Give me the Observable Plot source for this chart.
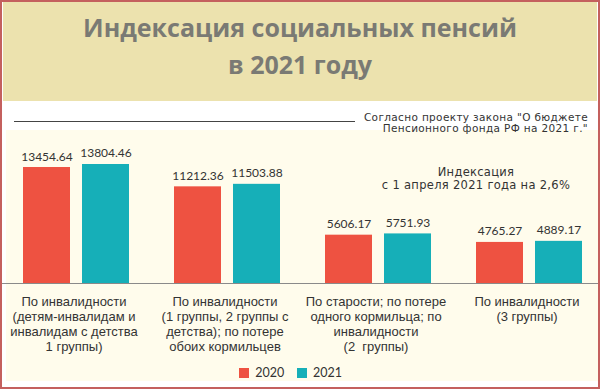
<!DOCTYPE html>
<html>
<head>
<meta charset="utf-8">
<script src="https://cdn.jsdelivr.net/npm/d3@7"></script>
<script src="https://cdn.jsdelivr.net/npm/@observablehq/plot@0.6"></script>
<style>
  html, body { margin: 0; padding: 0; background: #fff; }
  #wrap { position: relative; width: 600px; height: 389px; box-sizing: border-box;
          border: 2px solid #c4605e; background: #fff; overflow: hidden; }
  #title { position: absolute; left: 1px; top: 0; width: 594px; height: 99px; background: #ece2ae;
           box-sizing: border-box; padding-top: 7px; text-align: center;
           font: 700 25px/37px "Open Sans", sans-serif; color: #7a7a74; }
  #rule { position: absolute; left: 12px; top: 119px; width: 341px; border-top: 1px solid #444; }
  #cream { position: absolute; left: 4px; top: 128px; width: 592px; height: 251px; background: #fffcec; }
  #note { position: absolute; right: 10px; top: 110px; text-align: right; letter-spacing: 0.35px;
          font: 10.5px/10.5px "DejaVu Sans", sans-serif; color: #333; }
  #bars { position: absolute; left: -2px; top: 128px; }
  #legend { position: absolute; left: 237px; top: 354px; }
  #legend, #legend * { font-family: Lato, sans-serif !important; font-size: 12.5px !important; color: #333 !important; }
</style>
</head>
<body>
<div id="wrap">
  <div id="title">Индексация социальных пенсий<br>в 2021 году</div>
  <div id="rule"></div>
  <div id="cream"></div>
  <div id="note">Согласно проекту закона "О бюджете<br>Пенсионного фонда РФ на 2021 г."</div>
  <div id="bars"></div>
  <div id="legend"></div>
</div>
<script>
const categories = [
  "По инвалидности\n(детям-инвалидам и\nинвалидам с детства\n1 группы)",
  "По инвалидности\n(1 группы, 2 группы с\nдетства); по потере\nобоих кормильцев",
  "По старости; по потере\nодного кормильца; по\nинвалидности\n(2  группы)",
  "По инвалидности\n(3 группы)"
];
const years = ["2020", "2021"];
const values2020 = [13454.64, 11212.36, 5606.17, 4765.27];
const values2021 = [13804.46, 11503.88, 5751.93, 4889.17];
const colors = ["#ee5241", "#16afb8"];
const annotation = "Индексация\nс 1 апреля 2021 года на 2,6%";

const data = categories.flatMap((c, i) => [
  {category: c, year: years[0], value: values2020[i]},
  {category: c, year: years[1], value: values2021[i]}
]);

const barsPlot = Plot.plot({
  width: 605,
  height: 259,
  marginTop: 0, marginBottom: 106, marginLeft: 0, marginRight: 0,
  style: {background: "transparent", maxWidth: "none", overflow: "visible"},
  fx: {domain: categories, padding: 0, axis: null},
  x: {domain: years, paddingInner: 0.2, paddingOuter: 0.36, axis: null},
  y: {domain: [0, 17748], axis: null},
  color: {domain: years, range: colors},
  marks: [
    Plot.barY(data, {fx: "category", x: "year", y: "value", fill: "year"}),
    Plot.ruleY([0], {stroke: "#8a8a8a", strokeWidth: 1}),
    Plot.text(data, {fx: "category", x: "year", y: "value", text: d => d.value.toFixed(2),
      lineAnchor: "bottom", dy: -7, fontSize: 12, fill: "#333", fontFamily: "Lato"}),
    Plot.text([annotation], {fx: () => categories[3], frameAnchor: "top", lineAnchor: "top",
      dx: -54, dy: 36, fontSize: 11.5, lineHeight: 13 / 11.5, fill: "#333", fontFamily: "DejaVu Sans"}),
    Plot.text(categories, {fx: d => d, frameAnchor: "bottom", lineAnchor: "top",
      dx: -3, dy: 12, fontSize: 13, lineHeight: 15 / 13, fill: "#333", fontFamily: "Liberation Sans"})
  ]
});
barsPlot.querySelectorAll("text").forEach(t => {
  if (t.textContent.startsWith("Индексация")) t.style.letterSpacing = "0.3px";
});
document.getElementById("bars").appendChild(barsPlot);

const legend = barsPlot.legend("color", {swatchSize: 10});
document.getElementById("legend").appendChild(legend);
</script>
</body>
</html>
